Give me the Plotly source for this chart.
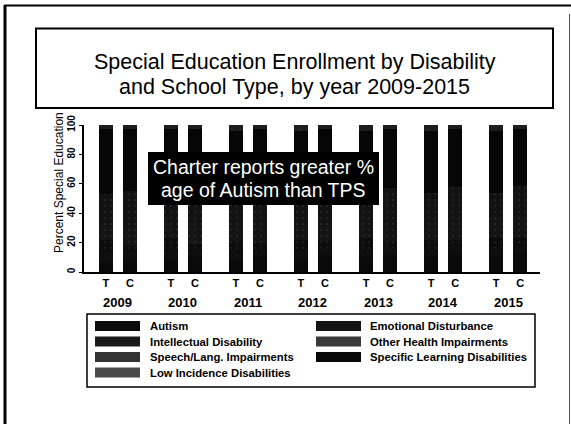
import plotly.graph_objects as go

# ---- data -------------------------------------------------------------
years = ["2009", "2010", "2011", "2012", "2013", "2014", "2015"]
school_types = ["T", "C"]  # T = traditional public school, C = charter

categories = [
    "Autism",
    "Emotional Disturbance",
    "Intellectual Disability",
    "Other Health Impairments",
    "Speech/Lang. Impairments",
    "Specific Learning Disabilities",
    "Low Incidence Disabilities",
]

# percent of special-education enrollment, TPS by year
tps_autism = [7, 8, 8, 9, 10, 10, 11]
tps_emotional = [6, 6, 5, 5, 5, 5, 5]
tps_intellectual = [9, 9, 8, 8, 8, 7, 7]
tps_other_health = [11, 12, 12, 13, 13, 14, 14]
tps_speech = [20, 19, 19, 18, 18, 18, 17]
tps_learning = [44, 43, 44, 43, 42, 42, 42]
tps_low_incidence = [3, 3, 4, 4, 4, 4, 4]

# percent of special-education enrollment, charter by year
chr_autism = [9, 10, 11, 12, 12, 13, 14]
chr_emotional = [4, 4, 4, 4, 4, 4, 4]
chr_intellectual = [5, 5, 5, 5, 5, 5, 5]
chr_other_health = [12, 13, 13, 13, 14, 14, 15]
chr_speech = [25, 24, 24, 23, 22, 22, 21]
chr_learning = [42, 41, 40, 40, 40, 39, 38]
chr_low_incidence = [3, 3, 3, 3, 3, 3, 3]

y_ticks = [0, 20, 40, 60, 80, 100]

title_lines = ["Special Education Enrollment by Disability",
               "and School Type, by year 2009-2015"]
callout_lines = ["Charter reports greater %", "age of Autism than TPS"]

# ---- styling ----------------------------------------------------------
W, H = 571, 424
PL, PR, PT, PB = 84, 540, 125, 272  # plot-area pixel edges

fills = ["#0a0a0a", "#0e0e0e", "#0c0c0c", "#141414", "#121212", "#060606", "#1c1c1c"]
patterns = ["", "", ".", ".", ".", "", "x"]
swatch_fills = ["#0c0c0c", "#141414", "#1a1a1a", "#3a3a3a", "#333333", "#080808", "#4a4a4a"]

FONT = "Liberation Sans, Arial, sans-serif"


def px_x(px):
    return (px - PL) / (PR - PL)


def px_y(py):
    return (PB - py) / (PB - PT)


tps = [tps_autism, tps_emotional, tps_intellectual, tps_other_health,
       tps_speech, tps_learning, tps_low_incidence]
chr_ = [chr_autism, chr_emotional, chr_intellectual, chr_other_health,
        chr_speech, chr_learning, chr_low_incidence]

offset = 0.185
bar_w = 0.22
x_t = [i - offset for i in range(len(years))]
x_c = [i + offset for i in range(len(years))]

fig = go.Figure()
for k, name in enumerate(categories):
    xs = x_t + x_c
    ys = tps[k] + chr_[k]
    fig.add_trace(go.Bar(
        x=xs, y=ys, name=name, width=bar_w,
        marker=dict(
            color=fills[k],
            line=dict(width=0),
            pattern=dict(shape=patterns[k], fgcolor="#5a5a5a",
                         size=6, solidity=0.06),
        ),
        showlegend=False,
    ))

shapes = []
annotations = []

# outer slide frame
shapes.append(dict(type="line", xref="paper", yref="paper",
                   x0=px_x(5), x1=px_x(5), y0=px_y(5), y1=px_y(430),
                   line=dict(color="black", width=3)))
shapes.append(dict(type="line", xref="paper", yref="paper",
                   x0=px_x(4), x1=px_x(571), y0=px_y(5.5), y1=px_y(5.5),
                   line=dict(color="black", width=2)))
shapes.append(dict(type="line", xref="paper", yref="paper",
                   x0=px_x(569.5), x1=px_x(569.5), y0=px_y(14), y1=px_y(430),
                   line=dict(color="#555", width=1)))

# title box
shapes.append(dict(type="rect", xref="paper", yref="paper",
                   x0=px_x(36), x1=px_x(553), y0=px_y(28.5), y1=px_y(108),
                   line=dict(color="black", width=2), fillcolor="rgba(0,0,0,0)"))
for j, line in enumerate(title_lines):
    annotations.append(dict(text=line, xref="paper", yref="paper",
                            x=px_x(294.5), y=px_y(62 + 24.5 * j),
                            xanchor="center", yanchor="middle", showarrow=False,
                            font=dict(family=FONT, size=21.5, color="black")))

# call-out box
shapes.append(dict(type="rect", xref="paper", yref="paper",
                   x0=px_x(148), x1=px_x(379), y0=px_y(152), y1=px_y(205),
                   line=dict(color="black", width=0), fillcolor="black"))
for j, line in enumerate(callout_lines):
    annotations.append(dict(text=line, xref="paper", yref="paper",
                            x=px_x(263.5), y=px_y(167 + 23 * j),
                            xanchor="center", yanchor="middle", showarrow=False,
                            font=dict(family=FONT, size=19.5, color="white")))

# y-axis title
annotations.append(dict(text="Percent Special Education", xref="paper", yref="paper",
                        x=px_x(59), y=px_y(183), textangle=-90,
                        xanchor="center", yanchor="middle", showarrow=False,
                        font=dict(family=FONT, size=12, color="black")))

# year labels under each T/C pair
for i, yr in enumerate(years):
    annotations.append(dict(text="<b>" + yr + "</b>", xref="x", yref="paper",
                            x=i, y=px_y(302),
                            xanchor="center", yanchor="middle", showarrow=False,
                            font=dict(family=FONT, size=13, color="black")))

# legend box with two columns of entries
shapes.append(dict(type="rect", xref="paper", yref="paper",
                   x0=px_x(87), x1=px_x(535), y0=px_y(314), y1=px_y(387),
                   line=dict(color="black", width=1.5), fillcolor="rgba(0,0,0,0)"))
col_sw = [95, 316]
col_tx = [148, 368]
row_y = [326, 341.5, 357, 372.5]
for k, name in enumerate(categories):
    c, r = k % 2, k // 2
    shapes.append(dict(type="rect", xref="paper", yref="paper",
                       x0=px_x(col_sw[c]), x1=px_x(col_sw[c] + 45),
                       y0=px_y(row_y[r] - 5), y1=px_y(row_y[r] + 5),
                       line=dict(width=0), fillcolor=swatch_fills[k]))
    annotations.append(dict(text="<b>" + name + "</b>", xref="paper", yref="paper",
                            x=px_x(col_tx[c]), y=px_y(row_y[r]),
                            xanchor="left", yanchor="middle", showarrow=False,
                            font=dict(family=FONT, size=11.3, color="black")))

fig.update_layout(
    width=W, height=H,
    barmode="stack",
    paper_bgcolor="white", plot_bgcolor="white",
    margin=dict(l=PL, r=W - PR, t=PT, b=H - PB, pad=0),
    shapes=shapes, annotations=annotations,
    font=dict(family=FONT, color="black"),
    xaxis=dict(
        range=[-0.52, len(years) - 1 + 0.49],
        tickvals=x_t + x_c,
        ticktext=[school_types[0]] * len(years) + [school_types[1]] * len(years),
        tickfont=dict(family=FONT, size=11, color="black", weight="bold"),
        ticks="", showgrid=False, zeroline=False,
        showline=True, linecolor="black", linewidth=2,
    ),
    yaxis=dict(
        range=[0, 100],
        tickvals=y_ticks,
        ticktext=[str(v) for v in y_ticks],
        tickangle=-90,
        tickfont=dict(family=FONT, size=10, color="black", weight="bold"),
        ticks="outside", ticklen=3, tickwidth=1, tickcolor="black",
        showgrid=False, zeroline=False,
        showline=True, linecolor="black", linewidth=1.5,
    ),
)

fig.write_html("out.html")
